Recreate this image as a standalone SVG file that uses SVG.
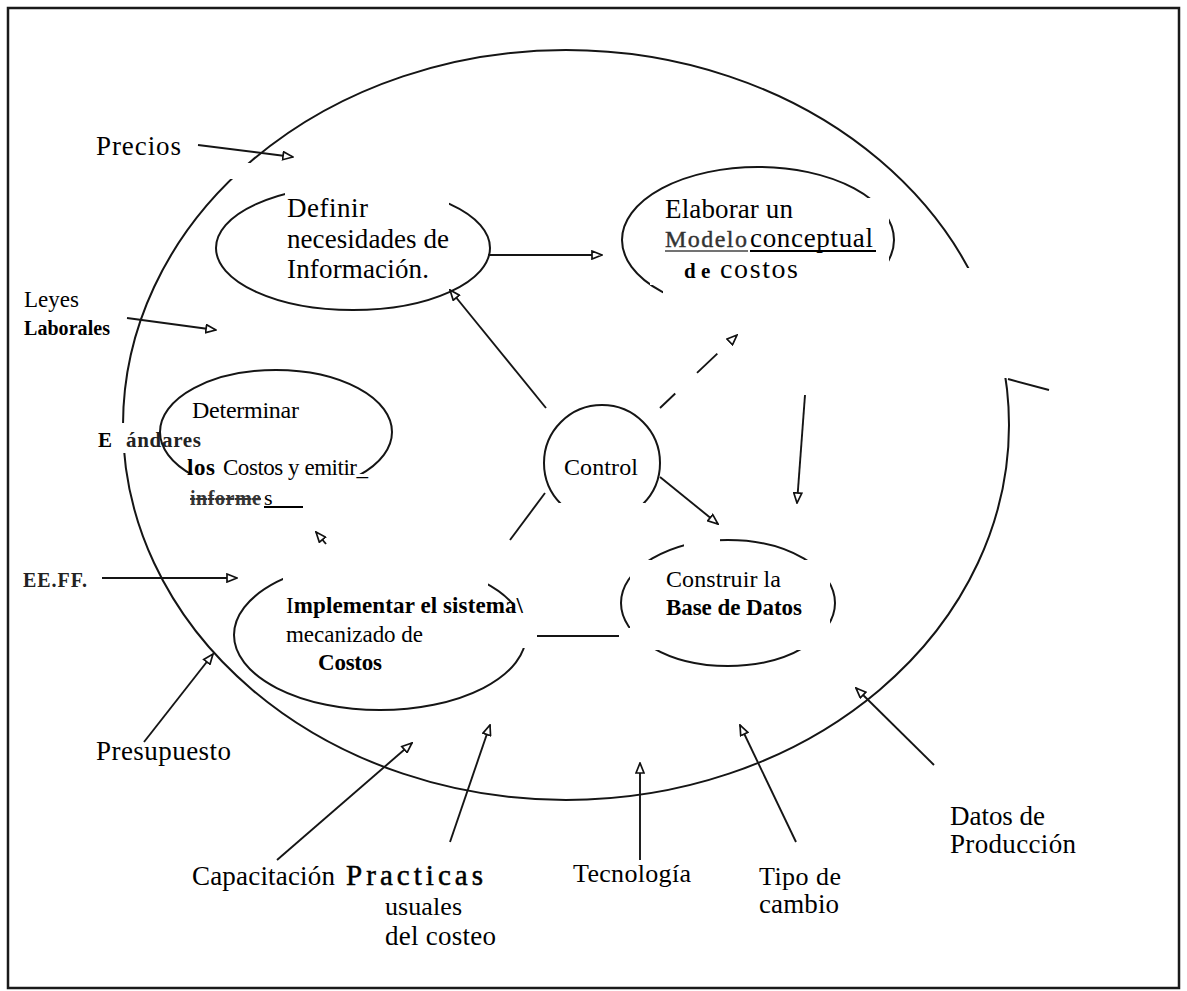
<svg xmlns="http://www.w3.org/2000/svg" width="1187" height="991" viewBox="0 0 1187 991" font-family="'Liberation Serif', 'Times New Roman', serif">
<style>
.ln{fill:none;stroke:#151515;stroke-width:1.9}
.sh{fill:none;stroke:#151515;stroke-width:2}
.wp{fill:#fff;stroke:none}
.b{font-weight:bold}
</style>
<defs>
<marker id="ah" viewBox="0 0 12 10" refX="11" refY="5" markerWidth="12" markerHeight="10" markerUnits="userSpaceOnUse" orient="auto">
<path d="M1,1 L11,5 L1,9 z" fill="#fff" stroke="#111" stroke-width="1.7"/>
</marker>
</defs>
<rect width="1187" height="991" fill="#fff"/>
<rect id="frame" x="8" y="8" width="1171" height="980" fill="none" stroke="#1a1a1a" stroke-width="2.5"/>

<g id="boundary">
<ellipse class="sh" cx="566" cy="425" rx="443" ry="375"/>
<rect class="wp" x="200" y="163" width="62" height="16"/>
<rect class="wp" x="95" y="423" width="31" height="30"/>
<rect class="wp" x="940" y="268" width="80" height="110"/>
<line class="ln" x1="1008" y1="379" x2="1049" y2="390"/>
</g>

<g id="connectors">
<line class="ln" x1="198" y1="145" x2="293" y2="157" marker-end="url(#ah)"/>
<line class="ln" x1="127" y1="318" x2="216" y2="330" marker-end="url(#ah)"/>
<line class="ln" x1="102" y1="578" x2="237" y2="578" marker-end="url(#ah)"/>
<line class="ln" x1="144" y1="742" x2="213" y2="654" marker-end="url(#ah)"/>
<line class="ln" x1="277" y1="860" x2="412" y2="743" marker-end="url(#ah)"/>
<line class="ln" x1="450" y1="842" x2="490" y2="725" marker-end="url(#ah)"/>
<line class="ln" x1="640" y1="860" x2="640" y2="763" marker-end="url(#ah)"/>
<line class="ln" x1="796" y1="842" x2="740" y2="725" marker-end="url(#ah)"/>
<line class="ln" x1="934" y1="765" x2="856" y2="688" marker-end="url(#ah)"/>
<line class="ln" x1="488" y1="255" x2="602" y2="255" marker-end="url(#ah)"/>
<line class="ln" x1="546" y1="408" x2="450" y2="290" marker-end="url(#ah)"/>
<line class="ln" x1="660" y1="477" x2="718" y2="524" marker-end="url(#ah)"/>
<line class="ln" x1="805" y1="395" x2="797" y2="503" marker-end="url(#ah)"/>
<line class="ln" x1="660" y1="408" x2="737" y2="335" stroke-dasharray="21 30 28 100" marker-end="url(#ah)"/>
<line class="ln" x1="510" y1="540" x2="545" y2="493"/>
<line class="ln" x1="537" y1="636" x2="619" y2="636"/>
<line class="ln" x1="326" y1="544" x2="316" y2="532" marker-end="url(#ah)"/>
</g>

<g id="precios"><text x="96" y="155" font-size="27" textLength="85">Precios</text></g>
<g id="leyes">
<text x="24" y="307" font-size="23" textLength="55">Leyes</text>
<text class="b" x="24" y="335" font-size="20" textLength="86">Laborales</text>
</g>
<g id="estandares">
<text class="b" x="98" y="447" font-size="21">E</text>
<text class="b" x="126" y="447" font-size="21" fill="#222" textLength="75">ándares</text>
</g>
<g id="eeff"><text class="b" x="23" y="587" font-size="20" fill="#222" textLength="64">EE.FF.</text></g>
<g id="presupuesto"><text x="96" y="760" font-size="27" textLength="135">Presupuesto</text></g>
<g id="capacitacion"><text x="192" y="885" font-size="27" textLength="143">Capacitación</text></g>
<g id="practicas">
<text x="346" y="885" font-size="29" stroke="#000" stroke-width="0.5" textLength="137">Practicas</text>
<text x="385" y="915" font-size="26" textLength="77">usuales</text>
<text x="385" y="945" font-size="27" textLength="111">del costeo</text>
</g>
<g id="tecnologia"><text x="573" y="882" font-size="26" textLength="118">Tecnología</text></g>
<g id="tipo-cambio">
<text x="759" y="885" font-size="26" textLength="82">Tipo de</text>
<text x="759" y="913" font-size="27" textLength="80">cambio</text>
</g>
<g id="datos-produccion">
<text x="950" y="825" font-size="27" textLength="95">Datos de</text>
<text x="950" y="853" font-size="27" textLength="126">Producción</text>
</g>

<g id="definir">
<ellipse class="sh" cx="353" cy="248" rx="137" ry="62"/>
<rect class="wp" x="285" y="180" width="164" height="108"/>
<text x="287" y="217" font-size="27" textLength="81">Definir</text>
<text x="287" y="248" font-size="27" textLength="162">necesidades de</text>
<text x="287" y="278" font-size="27" textLength="142">Información.</text>
</g>

<g id="modelo">
<ellipse class="sh" cx="758" cy="240" rx="136" ry="73"/>
<rect class="wp" x="650" y="198" width="239" height="87"/>
<rect class="wp" x="663" y="285" width="207" height="35"/>
<text x="665" y="218" font-size="27" textLength="128">Elaborar un</text>
<text x="665" y="247" font-size="24" fill="#333" stroke="#333" stroke-width="0.4" textLength="82">Modelo</text>
<text x="750" y="247" font-size="27" textLength="123">conceptual</text>
<line x1="665" y1="251" x2="748" y2="251" stroke="#444" stroke-width="1.6"/>
<line x1="750" y1="251" x2="876" y2="251" stroke="#000" stroke-width="2"/>
<text class="b" x="684" y="278" font-size="21">d e</text>
<text x="720" y="278" font-size="28" textLength="78">costos</text>
</g>

<g id="determinar">
<ellipse class="sh" cx="276" cy="432" rx="116" ry="62"/>
<rect class="wp" x="184" y="474" width="182" height="41"/>
<text x="192" y="418" font-size="24" textLength="107">Determinar</text>
<text class="b" x="187" y="475" font-size="23" textLength="28">los</text>
<text x="223" y="475" font-size="23" textLength="145">Costos y emitir_</text>
<text class="b" x="190" y="505" font-size="20" fill="#333" text-decoration="line-through" textLength="71">informe</text>
<text x="264" y="505" font-size="22">s</text>
<line x1="264" y1="507" x2="303" y2="507" stroke="#000" stroke-width="2"/>
</g>

<g id="control">
<circle class="sh" cx="602" cy="463" r="58"/>
<rect class="wp" x="553" y="503" width="92" height="62"/>
<text x="564" y="475" font-size="24" textLength="74">Control</text>
</g>

<g id="construir">
<ellipse class="sh" cx="728" cy="603" rx="107" ry="63"/>
<rect class="wp" x="630" y="560" width="200" height="68"/>
<rect class="wp" x="619" y="628" width="216" height="22"/>
<rect class="wp" x="684" y="528" width="36" height="32"/>
<text x="666" y="587" font-size="24" textLength="115">Construir la</text>
<text class="b" x="666" y="615" font-size="23" textLength="136">Base de Datos</text>
</g>

<g id="implementar">
<ellipse class="sh" cx="380" cy="635" rx="146" ry="75"/>
<rect class="wp" x="283" y="554" width="205" height="96"/>
<rect class="wp" x="488" y="604" width="40" height="44"/>
<text x="286" y="613" font-size="23" textLength="237">I<tspan font-weight="bold">mplementar el sistema\</tspan></text>
<text x="286" y="642" font-size="23" textLength="137">mecanizado de</text>
<text class="b" x="318" y="670" font-size="23" textLength="64">Costos</text>
</g>
</svg>
